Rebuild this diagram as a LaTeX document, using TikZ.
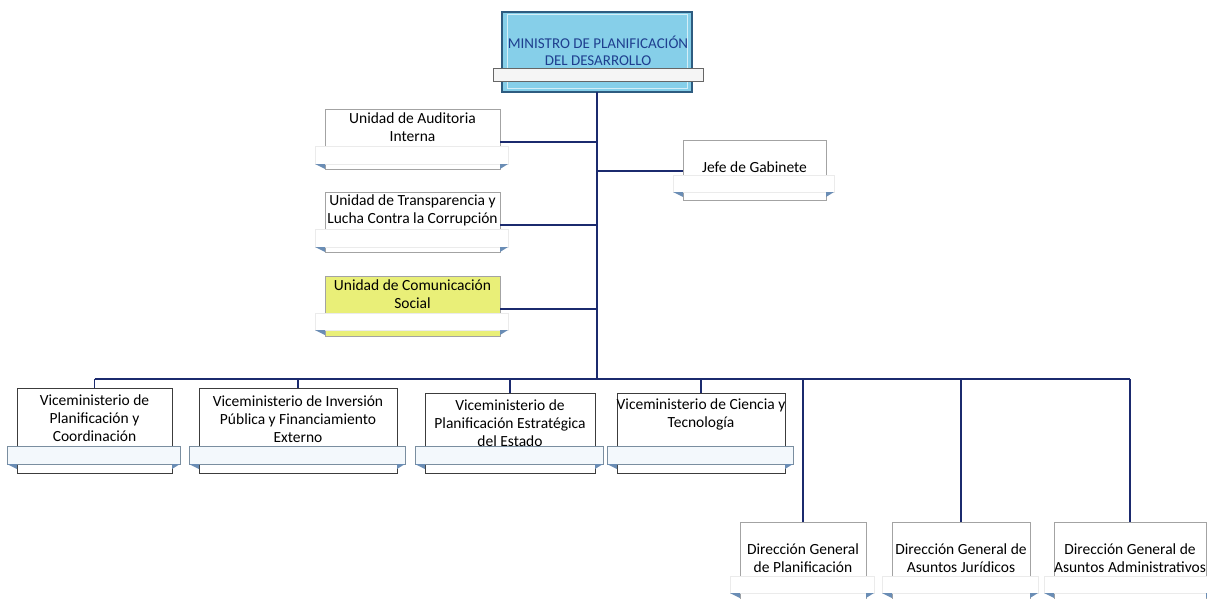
\documentclass[tikz,border=0pt]{standalone}
\usepackage{fontspec}
\setmainfont{Carlito}
\definecolor{navy}{HTML}{1B2A6E}
\definecolor{minfill}{HTML}{86CFE9}
\definecolor{minborder}{HTML}{2E5C80}
\definecolor{mintext}{HTML}{1F3F8F}
\definecolor{ubord}{HTML}{A3A3A3}
\definecolor{vbord}{HTML}{3C3C3C}
\definecolor{vtabfill}{HTML}{F3F8FC}
\definecolor{vtabbord}{HTML}{7A8EA0}
\definecolor{hookc}{HTML}{6A8DB5}
\definecolor{yell}{HTML}{E9EF78}
\newcommand\orgunit[9]{%
  \node[obox, minimum width={(#3-#2)*1pt}, minimum height={(#7-#4)*1pt}] (#1) at ({(#2+#3)/2},{(#4+#7)/2}) {};
  \node[otab, minimum width={(#3-#2+18)*1pt}, minimum height={(#6-#5)*1pt}] (#1-tab) at ({(#2+#3)/2-1},{(#5+#6)/2}) {};
  \fill[hookc] (#1-tab.south west) -- (#2,#6) -- (#2,{#6+5}) -- cycle;
  \fill[hookc] (#1-tab.south east) -- (#3,#6) -- (#3,{#6+5}) -- cycle;
  \node[otext] (#1-text) at ({(#2+#3)/2},#8) {#9};
}
\begin{document}
\begin{tikzpicture}[x=1pt,y=-1pt,
  conn/.style={draw=navy, line width=1.1pt},
  otext/.style={align=center, inner sep=0pt, font=\fontsize{15.5}{18}\selectfont, text=black},
  ubox/.style={rectangle, draw=ubord, line width=0.7pt, fill=white, inner sep=0pt, outer sep=0pt},
  utab/.style={rectangle, draw=black!8, line width=0.5pt, fill=white, inner sep=0pt, outer sep=0pt},
  vbox/.style={rectangle, draw=vbord, line width=0.9pt, fill=white, inner sep=0pt, outer sep=0pt},
  vtab/.style={rectangle, draw=vtabbord, line width=0.7pt, fill=vtabfill, inner sep=0pt, outer sep=0pt},
]
\useasboundingbox (0,0) rectangle (1207,599);
\clip (0,0) rectangle (1207,599);
\fill[white] (0,0) rectangle (1207,599);

% Minister
\node[rectangle, draw=minborder, line width=1.3pt, fill=minfill, inner sep=0pt, outer sep=0pt,
      minimum width=190pt, minimum height=80pt] (min) at (597,52) {};
\draw[white!65!minfill, line width=1pt] (507,15) rectangle (687,89);
\node[rectangle, draw=black!60, line width=0.8pt, fill=black!4, inner sep=0pt, outer sep=0pt,
      minimum width=210pt, minimum height=13pt] (minbar) at (598,74.5) {};
\node[align=center, inner sep=0pt, text=mintext, font=\fontsize{15}{17.5}\selectfont] (mintxt) at (598,51) {MINISTRO DE PLANIFICACIÓN\\DEL DESARROLLO};

% Staff units
\begin{scope}[obox/.style={ubox}, otab/.style={utab}]
  \orgunit{aud}{325}{500}{109}{146}{164}{169}{127}{Unidad de Auditoria\\Interna}
  \orgunit{tra}{325}{500}{192}{229}{247}{252}{210}{Unidad de Transparencia y\\Lucha Contra la Corrupción}
  \orgunit{jef}{683}{826}{140}{175}{192}{200}{167}{Jefe de Gabinete}
\end{scope}
\begin{scope}[obox/.style={ubox, fill=yell}, otab/.style={utab}]
  \orgunit{com}{325}{500}{276}{313}{330}{336}{294}{Unidad de Comunicación\\Social}
\end{scope}

% Vice-ministries
\begin{scope}[obox/.style={vbox}, otab/.style={vtab}]
  \orgunit{v1}{17}{172}{388}{446}{464}{473}{418}{Viceministerio de\\Planificación y\\Coordinación}
  \orgunit{v2}{199}{397}{388}{446}{464}{473}{419}{Viceministerio de Inversión\\Pública y Financiamiento\\Externo}
  \orgunit{v3}{425}{595}{393}{446}{464}{473}{423}{Viceministerio de\\Planificación Estratégica\\del Estado}
  \orgunit{v4}{617}{785}{393}{446}{464}{473}{414}{Viceministerio de Ciencia y\\Tecnología}
\end{scope}

% Direcciones
\begin{scope}[obox/.style={ubox}, otab/.style={utab}]
  \orgunit{d1}{740}{866}{522}{576}{593}{604}{558}{Dirección General\\de Planificación}
  \orgunit{d2}{892}{1030}{522}{576}{593}{604}{558}{Dirección General de\\Asuntos Jurídicos}
  \orgunit{d3}{1054}{1206}{522}{576}{593}{604}{558}{Dirección General de\\Asuntos Administrativos}
\end{scope}

% Connectors
\coordinate (bus) at (597,379);
\draw[conn] (min.south) -- (bus);
\coordinate (caud) at (597,142);
\coordinate (ctra) at (597,225);
\coordinate (ccom) at (597,309);
\coordinate (cjef) at (597,171);
\draw[conn] (caud) -- (caud -| aud.east);
\draw[conn] (ctra) -- (ctra -| tra.east);
\draw[conn] (ccom) -- (ccom -| com.east);
\draw[conn] (cjef) -- (cjef -| jef.west);
\draw[conn] (v1.north |- bus) -- (d3.north |- bus);
\foreach \v in {v1,v2,v3,v4,d1,d2,d3}{
  \draw[conn] (\v.north |- bus) -- (\v.north);
}
\end{tikzpicture}
\end{document}
